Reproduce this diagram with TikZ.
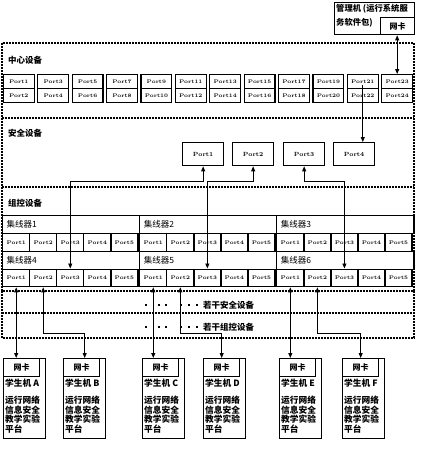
\documentclass[tikz,border=0pt]{standalone}
\usepackage{fontspec}
\newfontfamily\cjk{Noto Sans CJK SC}
\usetikzlibrary{arrows.meta,calc}
\begin{document}
\begin{tikzpicture}[x=1pt,y=-1pt,
  box/.style={draw, line width=1.35pt, inner sep=0pt, anchor=north west},
  cport/.style={box, minimum width=30.8pt, minimum height=14pt, font=\fontsize{5.2}{6}\selectfont\bfseries},
  hport/.style={box, minimum width=27.04pt, minimum height=17.5pt, font=\fontsize{5.2}{6}\selectfont\bfseries},
  hlabel/.style={box, minimum width=137.07pt, minimum height=18pt, text width=129pt, inner xsep=4pt, align=left, font=\cjk\fontsize{8.5}{9}\selectfont},
  sport/.style={box, minimum width=41pt, minimum height=23pt, font=\fontsize{6}{7}\selectfont\bfseries},
  title/.style={anchor=west, inner sep=0pt, font=\cjk\bfseries\fontsize{8.5}{9}\selectfont},
  stubox/.style={box, minimum width=42pt, minimum height=80pt},
  nicbox/.style={box, minimum width=36pt, minimum height=18pt, font=\cjk\bfseries\fontsize{8}{8}\selectfont},
  stutext/.style={anchor=north west, inner sep=0pt, align=left, font=\cjk\bfseries\fontsize{8.7}{7.7}\selectfont},
  dsh/.style={line width=1.1pt, dash pattern=on 2pt off 1pt},
  conn/.style={line width=0.9pt, arrows={Triangle[length=5pt,width=4pt]-Triangle[length=5pt,width=4pt]}},
  conn1/.style={line width=0.9pt, arrows={-Triangle[length=5pt,width=4pt]}}
]
\useasboundingbox (0,0) rectangle (424,450);

% dashed group boxes
\draw[dsh] (2,43) rectangle (414,291);
\draw[dsh] (2,118) -- (414,118);
\draw[dsh] (2,187) -- (414,187);
\draw[dsh] (2,291) -- (2,338) -- (414,338) -- (414,291);
\draw[dsh] (2,313) -- (414,313);

% management machine
\node[box, minimum width=80pt, minimum height=32pt] (mg) at (334,2) {};
\node[anchor=west, inner sep=0pt, font=\cjk\bfseries\fontsize{8.3}{9}\selectfont] (mgt1) at (336,9) {管理机 (运行系统服};
\node[anchor=west, inner sep=0pt, font=\cjk\bfseries\fontsize{8.3}{9}\selectfont] (mgt2) at (336,23) {务软件包)};
\node[nicbox, minimum width=34pt, minimum height=17pt] (mgnic) at (380,17) {网卡};

% centre device
\node[title] (tc) at (8,60) {中心设备};
\foreach \i in {0,...,11} {
  \pgfmathsetmacro\xx{2.7+34.4*\i}
  \pgfmathtruncatemacro\a{2*\i+1}
  \pgfmathtruncatemacro\b{2*\i+2}
  \node[cport] (c\a) at (\xx,74) {Port\a};
  \node[cport] (c\b) at (\xx,88) {Port\b};
}

% security device
\node[title] (ts) at (8,133) {安全设备};
\node[sport] (s1) at (182,142) {Port1};
\node[sport] (s2) at (232,142) {Port2};
\node[sport] (s3) at (283,142) {Port3};
\node[sport] (s4) at (333,142) {Port4};

% group control device
\node[title] (tg) at (8,203) {组控设备};
\foreach \k/\col/\yl/\yp in {1/0/215/233, 2/1/215/233, 3/2/215/233, 4/0/250.5/268.5, 5/1/250.5/268.5, 6/2/250.5/268.5} {
  \pgfmathsetmacro\xo{2+137.07*\col}
  \node[hlabel] (h\k) at (\xo,\yl) {集线器\k};
  \foreach \p in {1,...,5} {
    \pgfmathsetmacro\xp{\xo+27.04*(\p-1)}
    \node[hport] (h\k p\p) at (\xp,\yp) {Port\p};
  }
}

% further devices
\foreach \x in {146,159,166,181,189,197} {
  \fill (\x-1.1,303.9) rectangle ++(2.2,2.2);
  \fill (\x-1.1,325.9) rectangle ++(2.2,2.2);
}
\node[title] (more1) at (203,305) {若干安全设备};
\node[title] (more2) at (203,327) {若干组控设备};

% student machines
\foreach \n/\x in {A/3, B/63, C/142, D/203, E/279, F/342} {
  \node[stubox] (st\n) at (\x,358) {};
  \node[nicbox] (nic\n) at (\x,358) {网卡};
  \node[stutext] (stn\n) at (\x+2,379) {学生机 \n};
  \node[stutext] (stb\n) at (\x+2,396) {运行网络\\信息安全\\教学实验\\平台};
}

% connectors
\coordinate (secbus) at (0,181);
\coordinate (stubus) at (0,333);
\draw[conn] (c23 |- mgnic.south) -- (c23.north);
\draw[conn1] ([yshift=4pt]c21.south) -- (c21 |- s4.north);
\draw[conn] (h4p3.north) -- (h4p3.north |- secbus) -| (s1.south);
\draw[conn] (h5p3.north) -- (h5p3.north |- secbus) -| (s2.south);
\draw[conn] (h6p3.north) -- (h6p3.north |- secbus) -| (s3.south);
\draw[conn] (h4p1.south) -- (h4p1.south |- nicA.north);
\draw[conn] (h4p2.south) -- (h4p2.south |- stubus) -| (nicB.north -| stB.north);
\draw[conn] (h5p1.south) -- (h5p1.south |- nicC.north);
\draw[conn] (h5p2.south) -- (h5p2.south |- stubus) -| (nicD.north);
\draw[conn] (h6p1.south) -- (h6p1.south |- nicE.north);
\draw[conn] (h6p2.south) -- (h6p2.south |- stubus) -| (nicF.north);
\end{tikzpicture}
\end{document}
